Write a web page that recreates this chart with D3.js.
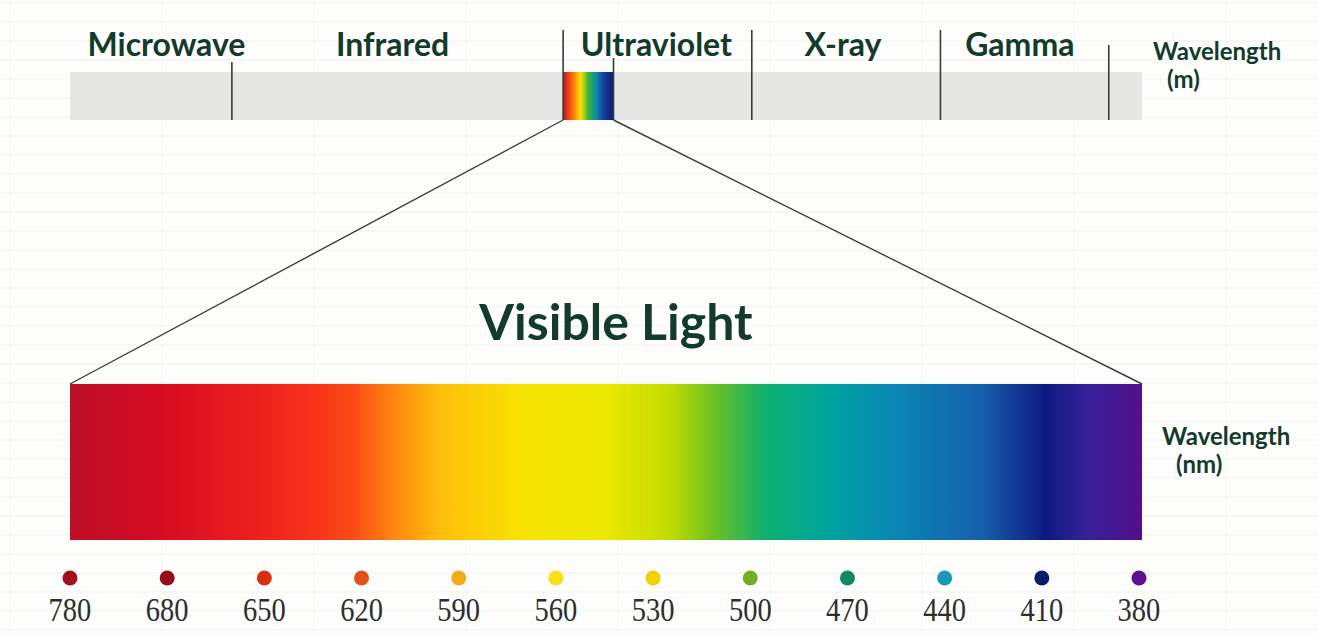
<!DOCTYPE html>
<html><head><meta charset="utf-8">
<script src="https://cdn.jsdelivr.net/npm/d3@7"></script>
<style>
html,body{margin:0;padding:0;background:#fdfdfc;}
svg{display:block;}
</style></head>
<body>
<svg id="chart" width="1319" height="637"></svg>
<script>
// ---- data ----
const bandNames = ["Microwave", "Infrared", "Ultraviolet", "X-ray", "Gamma"];
const bandCenters = [9.0, 30.1, 54.7, 72.1, 88.6];          // position along the spectrum bar (0-100)
const dividers = [15.1, 46.0, 50.7, 63.6, 81.2, 96.9];      // boundaries along the bar (0-100)
const visibleRange = [46.0, 50.7];                           // visible window in the top bar
const wavelengths = [780, 680, 650, 620, 590, 560, 530, 500, 470, 440, 410, 380];
const dotColors = ["#a30d1d", "#980b18", "#d8300f", "#e25117", "#f5aa1e", "#f8e012",
                   "#f0d200", "#72b021", "#108a62", "#1a9ab8", "#0b1c6c", "#5b1190"];
const gradOffsets = [0, 0.07, 0.17, 0.23, 0.265, 0.30, 0.345, 0.42, 0.50, 0.56, 0.60, 0.65, 0.71, 0.77, 0.85, 0.91, 0.95, 1];
const gradColors = ["#bb0f26", "#d20a22", "#ec1e1e", "#f8341a", "#fa4c14", "#fe8410", "#ffbe0c",
                    "#f7e200", "#ece800", "#c0dc00", "#6cc023", "#0cb070", "#00a2a0", "#0a86b4",
                    "#1660ac", "#0e1a80", "#37219a", "#52108a"];
const miniOffsets = [0, 0.18, 0.35, 0.5, 0.65, 0.8, 1];
const miniColors = ["#c80f1e", "#ff6a10", "#f6e400", "#3bb236", "#0a8ea8", "#1640a0", "#0c1a70"];

// ---- setup ----
const svg = d3.select("#chart");
const W = 1319, H = 637;
const ink = "#123b2c";
const defs = svg.append("defs");

// faint grid-paper background
const gy = d3.range(3, H, 19);
svg.append("g").selectAll("line").data(gy).join("line")
  .attr("x1", 0).attr("x2", W).attr("y1", d => d).attr("y2", d => d)
  .attr("stroke", "#f1f1ef").attr("stroke-width", 1);
const gx = d3.range(10, W, 152);
svg.append("g").selectAll("line").data(gx).join("line")
  .attr("y1", 0).attr("y2", H).attr("x1", d => d).attr("x2", d => d)
  .attr("stroke", "#f4f4f2").attr("stroke-width", 1);

const x = d3.scaleLinear().domain([0, 100]).range([70, 1142]);
const barTop = 72, barBot = 120;
const bigTop = 384, bigBot = 540;

// top gray bar
svg.append("rect").attr("x", x(0)).attr("y", barTop).attr("width", x(100) - x(0)).attr("height", barBot - barTop)
  .attr("fill", "#e6e6e4");

// mini spectrum
const mg = defs.append("linearGradient").attr("id", "mini").attr("x1", "0%").attr("x2", "100%");
mg.selectAll("stop").data(miniOffsets).join("stop")
  .attr("offset", d => d).attr("stop-color", (d, i) => miniColors[i]);
svg.append("rect").attr("x", x(visibleRange[0])).attr("y", barTop)
  .attr("width", x(visibleRange[1]) - x(visibleRange[0])).attr("height", barBot - barTop)
  .attr("fill", "url(#mini)");

// divider lines
const divTops = [62, 30, 58, 30, 30, 45];
svg.append("g").selectAll("line").data(dividers).join("line")
  .attr("x1", d => x(d)).attr("x2", d => x(d))
  .attr("y1", (d, i) => divTops[i]).attr("y2", barBot)
  .attr("stroke", "#3a3a3a").attr("stroke-width", 1.6);

// band labels
svg.append("g").selectAll("text").data(bandNames).join("text")
  .attr("x", (d, i) => x(bandCenters[i])).attr("y", 56)
  .attr("text-anchor", "middle")
  .attr("font-family", "Lato, 'Open Sans', sans-serif").attr("font-weight", 700)
  .attr("font-size", 32).attr("fill", ink)
  .text(d => d);

// units labels
function unitLabel(xp, y, l1, l2, fs) {
  const t = svg.append("text").attr("font-family", "Lato, 'Open Sans', sans-serif")
    .attr("font-weight", 700).attr("font-size", fs).attr("fill", ink);
  t.append("tspan").attr("x", xp).attr("y", y).text(l1);
  t.append("tspan").attr("x", xp + 14).attr("y", y + 28).text(l2);
}
unitLabel(1153, 60, "Wavelength", "(m)", 24);
unitLabel(1162, 445, "Wavelength", "(nm)", 24);

// zoom lines
svg.append("line").attr("x1", x(visibleRange[0])).attr("y1", barBot).attr("x2", x(0)).attr("y2", bigTop)
  .attr("stroke", "#3c3c3c").attr("stroke-width", 1.4);
svg.append("line").attr("x1", x(visibleRange[1])).attr("y1", barBot).attr("x2", x(100)).attr("y2", bigTop)
  .attr("stroke", "#3c3c3c").attr("stroke-width", 1.4);

// title
svg.append("text").attr("x", 616).attr("y", 340).attr("text-anchor", "middle")
  .attr("font-family", "Lato, 'Open Sans', sans-serif").attr("font-weight", 700)
  .attr("font-size", 50).attr("fill", ink).text("Visible Light");

// big spectrum
const bg = defs.append("linearGradient").attr("id", "big").attr("x1", "0%").attr("x2", "100%");
bg.selectAll("stop").data(gradOffsets).join("stop")
  .attr("offset", d => d).attr("stop-color", (d, i) => gradColors[i]);
svg.append("rect").attr("x", x(0)).attr("y", bigTop).attr("width", x(100) - x(0)).attr("height", bigBot - bigTop)
  .attr("fill", "url(#big)");

// wavelength dots & labels
const px = d3.scalePoint().domain(wavelengths).range([70, 1139]);
svg.append("g").selectAll("circle").data(wavelengths).join("circle")
  .attr("cx", d => px(d)).attr("cy", 578).attr("r", 7.5)
  .attr("fill", (d, i) => dotColors[i]);
svg.append("g").selectAll("text").data(wavelengths).join("text")
  .attr("x", d => px(d)).attr("y", 621).attr("text-anchor", "middle")
  .attr("font-family", "'Liberation Serif', 'DejaVu Serif', serif")
  .attr("font-size", 30).attr("fill", "#2e2e2e")
  .attr("transform", d => `translate(${px(d)},621) scale(0.95,1.1) translate(${-px(d)},-621)`)
  .text(d => d);
</script>
</body></html>
